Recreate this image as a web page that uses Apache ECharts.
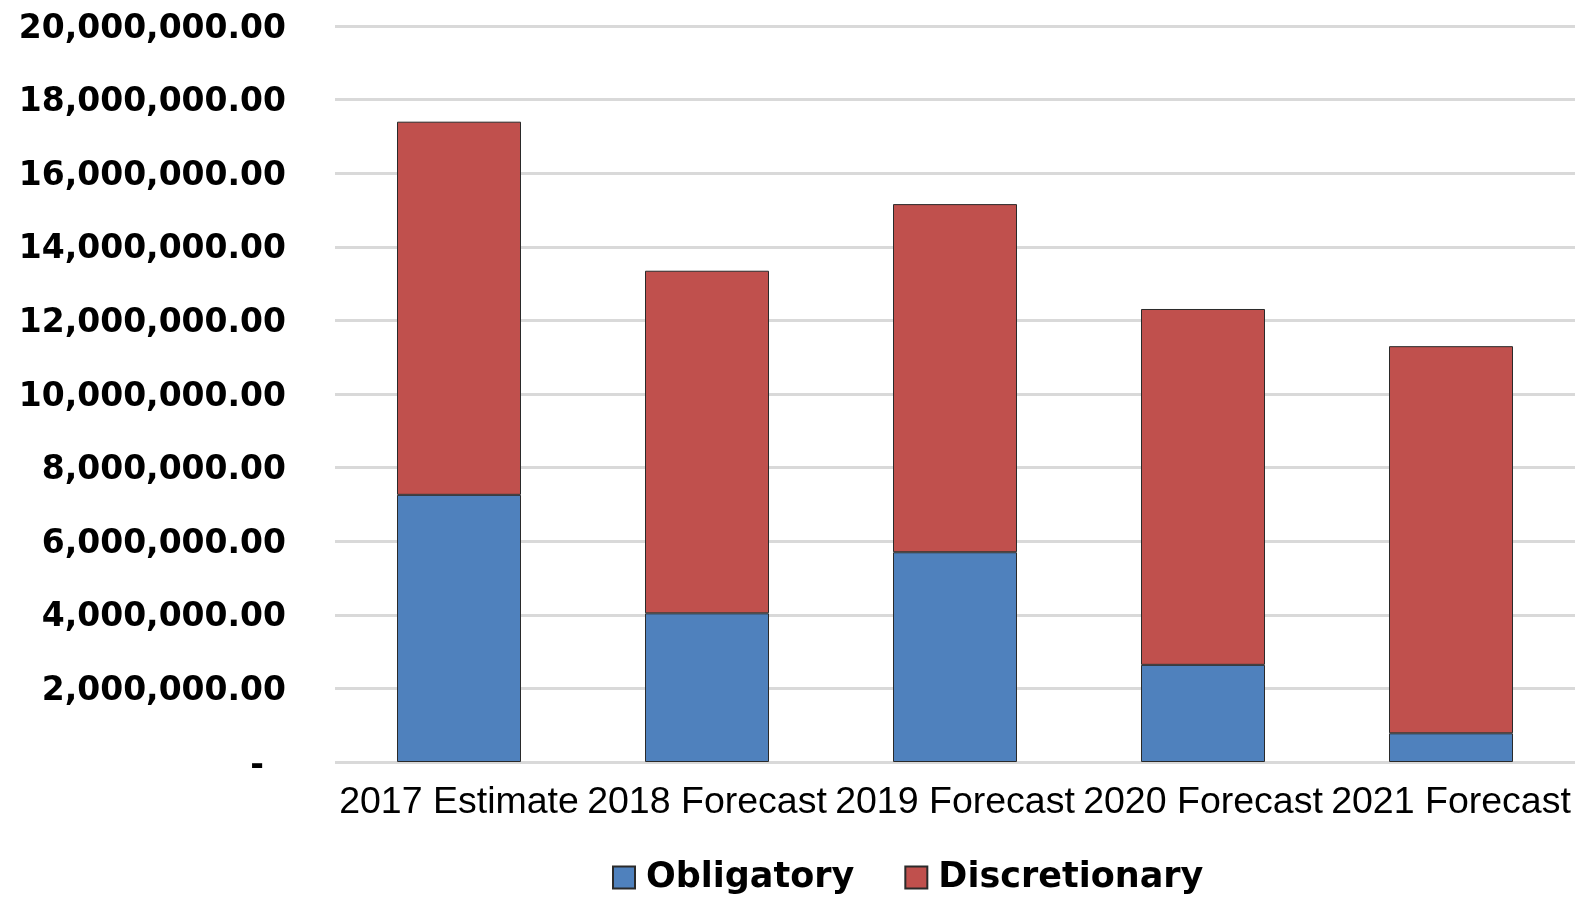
<!DOCTYPE html>
<html>
<head>
<meta charset="utf-8">
<script src="https://cdn.jsdelivr.net/npm/echarts@6/dist/echarts.min.js"></script>
<style>
html,body{margin:0;padding:0;background:#fff;}
#c{width:1585px;height:897px;}
</style>
</head>
<body>
<div id="c"></div>
<script>
var categories = ['2017 Estimate', '2018 Forecast', '2019 Forecast', '2020 Forecast', '2021 Forecast'];
var obligatory = [7260000, 4040000, 5700000, 2640000, 780000];
var discretionary = [10140000, 9310000, 9460000, 9670000, 10520000];
var seriesNames = ['Obligatory', 'Discretionary'];

function fmt(v) {
  if (v === 0) return '{d|-}';
  return '{n|' + v.toLocaleString('en-US', {minimumFractionDigits: 2, maximumFractionDigits: 2}) + '}';
}

var chart = echarts.init(document.getElementById('c'), null, {renderer: 'canvas'});
chart.setOption({
  animation: false,
  backgroundColor: '#ffffff',
  grid: {left: 335, right: 10, top: 26, bottom: 135, containLabel: false},
  legend: {
    data: seriesNames,
    left: 607,
    top: 855,
    itemWidth: 22,
    itemHeight: 22,
    itemGap: 50,
    icon: 'rect',
    textStyle: {fontFamily: 'DejaVu Sans', fontWeight: 'bold', fontSize: 35, color: '#000', padding: [0, 0, 0, 6]}
  },
  xAxis: {
    type: 'category',
    data: categories,
    axisLine: {show: false},
    axisTick: {show: false},
    axisLabel: {interval: 0, margin: 22, color: '#000', fontFamily: 'Liberation Sans', fontSize: 37.5}
  },
  yAxis: {
    type: 'value',
    min: 0,
    max: 20000000,
    interval: 2000000,
    axisLine: {show: false},
    axisTick: {show: false},
    splitLine: {lineStyle: {color: '#D9D9D9', width: 3}},
    axisLabel: {
      margin: 49,
      color: '#000',
      fontFamily: 'DejaVu Sans',
      fontWeight: 'bold',
      fontSize: 33,
      formatter: fmt,
      rich: {
        n: {fontFamily: 'DejaVu Sans', fontWeight: 'bold', fontSize: 33, color: '#000', padding: [6, 0, 0, 0]},
        d: {fontFamily: 'DejaVu Sans', fontWeight: 'bold', fontSize: 33, color: '#000', padding: [8, 22, 0, 0]}
      }
    }
  },
  series: [
    {
      name: seriesNames[0],
      type: 'bar',
      stack: 'total',
      barWidth: 124,
      data: obligatory,
      itemStyle: {color: '#4F81BD', borderColor: '#2a2a2a', borderWidth: 1}
    },
    {
      name: seriesNames[1],
      type: 'bar',
      stack: 'total',
      barWidth: 124,
      data: discretionary,
      itemStyle: {color: '#C0504D', borderColor: '#2a2a2a', borderWidth: 1}
    }
  ]
});
</script>
</body>
</html>
